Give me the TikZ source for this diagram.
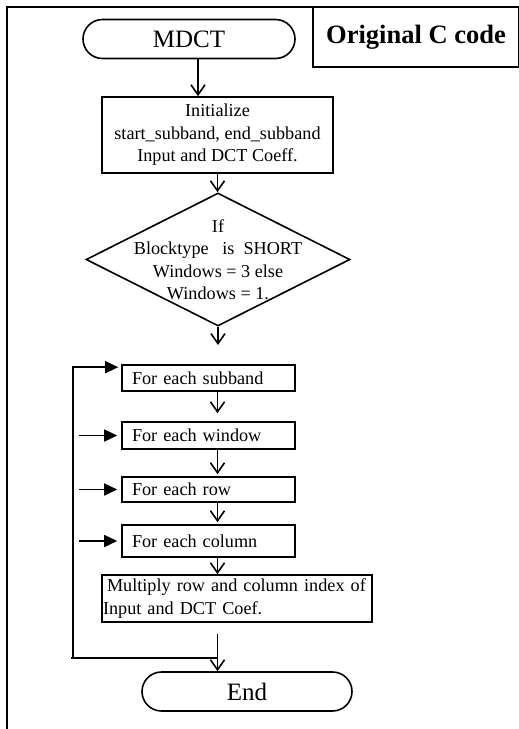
\documentclass[tikz,border=0pt]{standalone}
\usepackage{fontspec}
\setmainfont{Liberation Serif}
\usetikzlibrary{arrows.meta, positioning, calc, shapes.geometric, shapes.misc}

\begin{document}
\begin{tikzpicture}[
  x=1pt, y=-1pt,
  font=\fontsize{18.2}{22.5}\selectfont,
  line width=1.6pt,
  term/.style  ={draw, rounded rectangle, minimum height=39pt, inner sep=0pt, font=\fontsize{25}{30}\selectfont},
  proc/.style  ={draw, align=center, inner sep=0pt},
  loopbx/.style={draw, minimum width=173pt, text width=153pt, align=left, inner xsep=10pt, inner ysep=0pt},
  dec/.style   ={draw, diamond, minimum width=264pt, minimum height=133pt, inner sep=-30pt, align=center},
  varr/.style  ={-{Straight Barb[length=10pt,width=14pt]}},
  farr/.style  ={-{Triangle[length=13pt,width=12pt]}}
]
\useasboundingbox (0,0) rectangle (519,729);

% page frame and title box
\draw (7,729) -- (7,7) -- (519,7);
\node[draw, minimum width=206pt, minimum height=60pt, inner sep=0pt,
      font=\bfseries\fontsize{26.5}{30}\selectfont] (orig) at (416,37) {Original C code};

\node[term, minimum width=212pt] (mdct) at (189,39) {MDCT};
\node[proc, minimum width=231pt, minimum height=76pt] (init) at (217.5,135)
  {Initialize\\start\_subband, end\_subband\\Input and DCT Coeff.};
\node[dec] (dec) at (218,259.5)
  {If\\Blocktype\ \ \ is\ \ SHORT\\Windows = 3 else\\Windows = 1.};
\coordinate (gap) at (218,345);

\node[loopbx, minimum height=26pt] (sub) at (208.5,378)   {For each subband};
\node[loopbx, minimum height=27pt] (win) at (208.5,435.5) {For each window};
\node[loopbx, minimum height=25pt] (row) at (208.5,489.5) {For each row};
\node[loopbx, minimum height=32pt] (col) at (208.5,541)   {For each column};
\node[draw, align=left, text width=268pt, inner xsep=1pt, inner ysep=0pt, minimum height=47pt] (mul) at (237,598.5)
  {\hspace*{4pt}Multiply row and column index of\\Input and DCT Coef.};
\node[term, minimum width=210pt] (endn) at (247,691.5) {End};

\draw[varr] ([xshift=9pt]mdct.south) -- ([xshift=9pt]mdct.south |- init.north);
\draw[varr] (init.south) -- (init.south |- dec.north);
\draw[varr] (dec.south) -- (gap);
\draw[varr, shorten >=8pt] (sub.south -| init) -- (win.north -| init);
\draw[varr, shorten >=2pt] (win.south -| init) -- (row.north -| init);
\draw[varr, shorten >=2pt] (row.south -| init) -- (col.north -| init);
\draw[varr] (col.south -| init) -- (mul.north -| init);
\draw[varr] ([yshift=-11pt]mul.south -| init) -- (endn.north -| init);

% loop back to the outer loop
\coordinate (lp) at (73,658);
\draw ([xshift=-2pt]lp) -- (lp -| init);
\draw[farr, shorten >=3pt] (lp) |- ([yshift=-3pt]sub.north west);
\foreach \n in {win,row,col}
  \draw[farr, shorten >=4pt] ([xshift=-42pt]\n.west) -- (\n.west);
\end{tikzpicture}
\end{document}
